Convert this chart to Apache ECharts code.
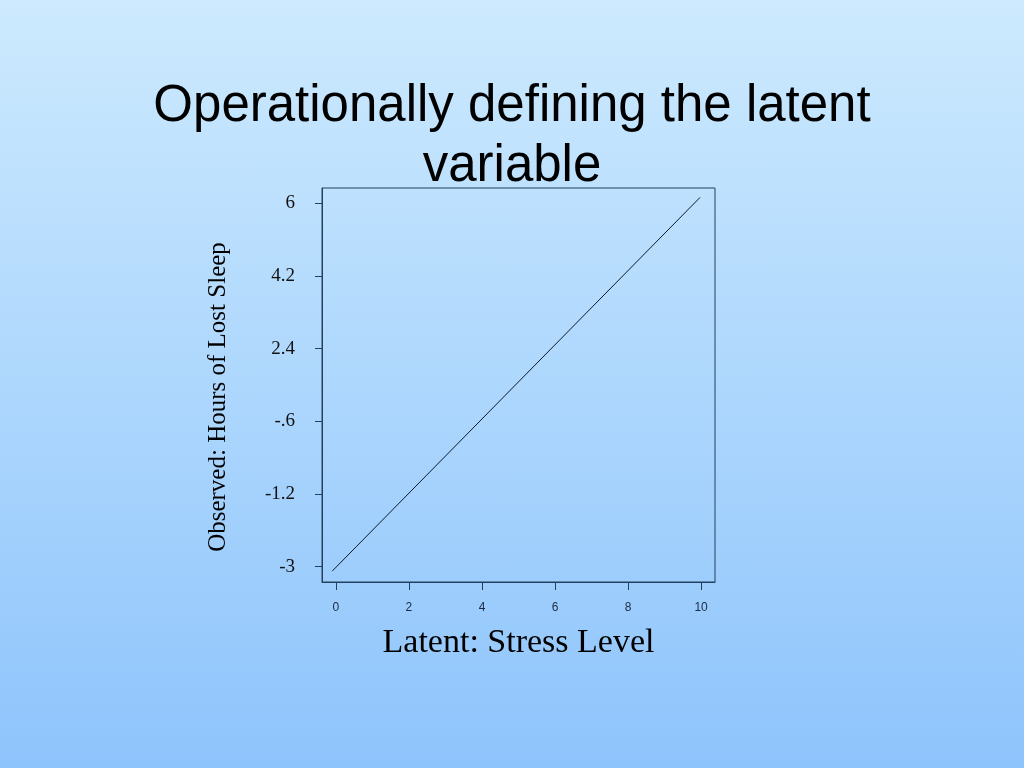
<!DOCTYPE html>
<html>
<head>
<meta charset="utf-8">
<script src="https://cdn.jsdelivr.net/npm/echarts@6/dist/echarts.min.js"></script>
<style>
html,body{margin:0;padding:0;}
#c{width:1024px;height:768px;background:linear-gradient(to bottom,#cdeafe 0%,#8ec4fc 100%);}
</style>
</head>
<body>
<div id="c"></div>
<script>
// Data
const titleLines = ['Operationally defining the latent', 'variable'];
const xTickValues = [0, 2, 4, 6, 8, 10];
const yTickLabels = ['-3', '-1.2', '-.6', '2.4', '4.2', '6'];   // evenly spaced positions 0..5
const yTickPositions = [0, 1, 2, 3, 4, 5];
const lineX = [-0.1, 9.97];       // Latent: Stress Level
const lineY = [-0.06, 5.08];      // position on the evenly spaced observed scale

const chart = echarts.init(document.getElementById('c'), null, {renderer: 'canvas'});
const navy = '#24405f';
const titleStyle = {fontFamily: 'Liberation Sans', fontSize: 51, fontWeight: 'normal', color: '#000'};
chart.setOption({
  backgroundColor: 'transparent',
  animation: false,
  title: titleLines.map((t, i) => ({
    text: t, left: 'center', top: 76 + i * 60, textStyle: titleStyle
  })),
  grid: {left: 322, top: 188, width: 393, height: 394, show: true, borderColor: navy, borderWidth: 1, backgroundColor: 'transparent'},
  xAxis: {
    type: 'value', min: -0.38, max: 10.38,
    name: 'Latent: Stress Level', nameLocation: 'middle', nameGap: 44,
    nameTextStyle: {fontFamily: 'Liberation Serif', fontSize: 34, color: '#000'},
    axisLine: {show: true, onZero: false, lineStyle: {color: navy, width: 1}},
    axisTick: {show: true, inside: false, length: 8, customValues: xTickValues, lineStyle: {color: navy}},
    axisLabel: {customValues: xTickValues, margin: 20, fontFamily: 'Liberation Sans', fontSize: 12, color: '#1a2a44'},
    splitLine: {show: false}
  },
  yAxis: {
    type: 'value', min: -0.21, max: 5.21,
    name: 'Observed: Hours of Lost Sleep', nameLocation: 'middle', nameGap: 91,
    nameTextStyle: {fontFamily: 'Liberation Serif', fontSize: 25, color: '#000', padding: [0, 24, 0, 0]},
    axisLine: {show: true, onZero: false, lineStyle: {color: navy, width: 1}},
    axisTick: {show: true, inside: false, length: 7, customValues: yTickPositions, lineStyle: {color: navy}},
    axisLabel: {customValues: yTickPositions, margin: 27, fontFamily: 'Liberation Serif', fontSize: 19, color: '#111',
      formatter: v => yTickLabels[Math.round(v)]},
    splitLine: {show: false}
  },
  series: [{
    type: 'line',
    data: lineX.map((x, i) => [x, lineY[i]]),
    showSymbol: false,
    lineStyle: {color: '#0d1a2a', width: 1},
    silent: true
  }]
});
</script>
</body>
</html>
